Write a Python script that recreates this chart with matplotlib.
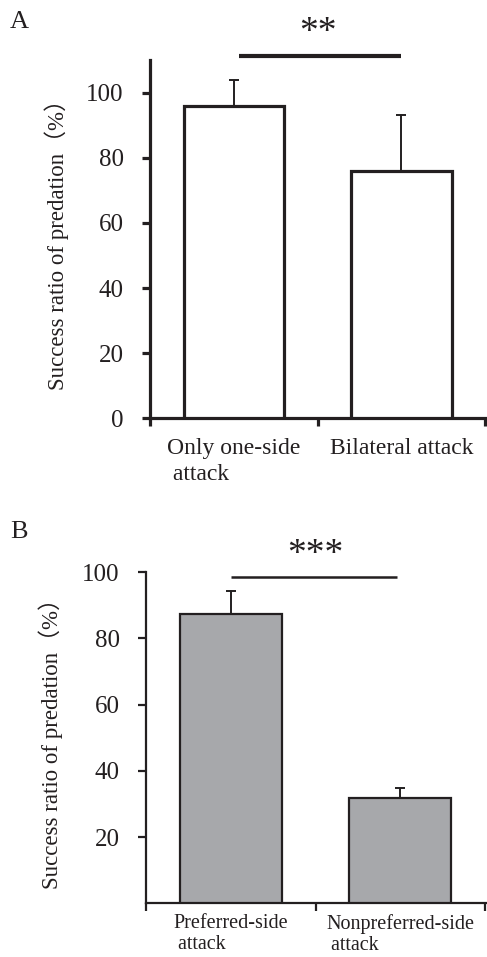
import matplotlib.pyplot as plt

# panel A
cats_a = ["Only one-side\n attack", "Bilateral attack"]
vals_a = [96, 76]
errs_a = [8, 17]

# panel B
cats_b = ["Preferred-side\n attack", "Nonpreferred-side\n attack"]
vals_b = [87.3, 31.7]
errs_b = [7, 3]

ylabel = "Success ratio of predation（%）"
ink = "#231f20"
fam = ["Liberation Serif", "Noto Sans CJK JP"]

plt.rcParams['font.family'] = fam

fig = plt.figure(figsize=(4.87, 9.57), dpi=100)


def panel(ax, cats, vals, errs, face, lw, ticks, ymax, csize, cpad, lsp, lpad):
    x = list(range(len(cats)))
    ax.bar(x, vals, width=0.6, color=face, edgecolor=ink, linewidth=lw, zorder=3)
    ax.errorbar(x, vals, yerr=[[0] * len(errs), errs], fmt='none', ecolor=ink,
                elinewidth=1.4, capsize=3.5, capthick=1.4, zorder=2)
    ax.set_xlim(-0.5, 1.505)
    ax.set_ylim(0, ymax)
    for s in ['top', 'right']:
        ax.spines[s].set_visible(False)
    for s in ['left', 'bottom']:
        ax.spines[s].set_linewidth(lw)
        ax.spines[s].set_color(ink)
    ax.set_yticks(ticks)
    ax.set_yticklabels([str(t) for t in ticks], fontsize=18, color=ink)
    ax.tick_params(axis='y', direction='out', length=6, width=lw, color=ink, pad=13)
    ax.set_xticks([-0.5, 0.5, 1.5])
    ax.set_xticklabels([])
    ax.tick_params(axis='x', direction='out', length=6, width=lw, color=ink)
    ax.set_xticks(x, minor=True)
    ax.set_xticklabels(cats, minor=True, fontsize=csize, color=ink,
                       multialignment='left', linespacing=lsp)
    ax.tick_params(axis='x', which='minor', length=0, pad=cpad)
    ax.set_ylabel(ylabel, fontsize=16.5, color=ink, labelpad=lpad)


ax_a = fig.add_axes([0.308, 0.5629, 0.690, 0.3744])
panel(ax_a, cats_a, vals_a, errs_a, 'white', 2.3, [0, 20, 40, 60, 80, 100], 110,
      17, 14, 1.35, 12)
ax_a.plot([0.03, 1.0], [111.2, 111.2], color=ink, lw=3, clip_on=False,
          solid_capstyle='butt')
ax_a.text(0.5, 113, "**", ha='center', va='bottom', fontsize=27, color=ink,
          clip_on=False)

ax_b = fig.add_axes([0.2998, 0.0561, 0.698, 0.3459])
panel(ax_b, cats_b, vals_b, errs_b, '#a7a8ab', 1.6, [20, 40, 60, 80, 100], 100,
      14.5, 8, 1.1, 14)
ax_b.plot([0.0, 0.98], [98.6, 98.6], color=ink, lw=1.8, clip_on=False,
          solid_capstyle='butt')
ax_b.text(0.5, 100.0, "***", ha='center', va='bottom', fontsize=27, color=ink,
          clip_on=False)

fig.text(0.02, 0.966, "A", fontsize=19, color=ink, va='bottom')
fig.text(0.02, 0.433, "B", fontsize=19, color=ink, va='bottom')

fig.savefig("out.png", dpi=100)
